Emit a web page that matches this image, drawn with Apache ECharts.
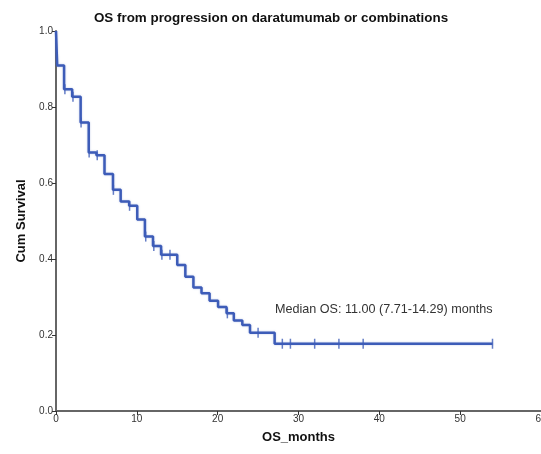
<!DOCTYPE html>
<html>
<head>
<meta charset="utf-8">
<script src="https://cdn.jsdelivr.net/npm/echarts@6/dist/echarts.min.js"></script>
<style>
  html, body { margin: 0; padding: 0; background: #fff; }
  #km-chart { width: 541px; height: 454px; }
</style>
</head>
<body>
<div id="km-chart"></div>
<script>
// step points of the survival curve (months, cum survival)
let times = [0, 0.15, 1.0, 2.0, 3.05, 4.05, 5.0, 6.0, 7.05, 8.0, 9.05, 10.05, 11.0, 12.0, 13.0,
  15.0, 16.0, 17.0, 18.0, 19.0, 20.05, 21.1, 22.0, 23.05, 24.0, 27.05, 54]
let surv = [1.0, 0.909, 0.847, 0.827, 0.759, 0.680, 0.673, 0.624, 0.582, 0.551, 0.540, 0.504, 0.459, 0.434, 0.411,
  0.384, 0.353, 0.325, 0.310, 0.290, 0.274, 0.257, 0.238, 0.226, 0.206, 0.177, 0.177]
// censored observations
let censored = [1.1, 2.1, 3.1, 4.1, 5.1, 7.1, 9.1, 11.1, 12.1, 13.1, 14.1, 21.2, 25, 28, 29, 32, 35, 38, 54]
let xTicks = [0, 10, 20, 30, 40, 50, 60]
let yTicks = [0.0, 0.2, 0.4, 0.6, 0.8, 1.0]
let medianText = 'Median OS: 11.00 (7.71-14.29) months'

let lineColor = '#3d5cb8'

function survAt(t) {
  let s = surv[0]
  for (let i = 0; i < times.length; i++) {
    if (times[i] <= t) s = surv[i]
  }
  return s
}

let curve = times.map((t, i) => [t, surv[i]])
let ticks = censored.map(t => [t, survAt(t)])

let chart = echarts.init(document.getElementById('km-chart'))
let option = {
  animation: false,
  title: {
    text: 'OS from progression on daratumumab or combinations',
    left: 266,
    textAlign: 'center',
    top: 7,
    textStyle: {
      fontFamily: 'Liberation Sans',
      fontSize: 13.4,
      fontWeight: 'bold',
      color: '#111'
    }
  },
  grid: {
    left: 56,
    top: 31,
    right: 0,
    bottom: 43,
    containLabel: false,
    outerBoundsMode: 'none'
  },
  xAxis: {
    type: 'value',
    min: xTicks[0],
    max: xTicks[xTicks.length - 1],
    interval: 10,
    name: 'OS_months',
    nameLocation: 'middle',
    nameGap: 20,
    nameTextStyle: { fontFamily: 'Liberation Sans', fontSize: 13, fontWeight: 'bold', color: '#111' },
    axisLine: { lineStyle: { color: '#666', width: 2 } },
    axisTick: { length: 4, lineStyle: { color: '#333' } },
    axisLabel: { fontFamily: 'Liberation Sans', fontSize: 10, color: '#333', margin: 3 },
    splitLine: { show: false }
  },
  yAxis: {
    type: 'value',
    min: yTicks[0],
    max: yTicks[yTicks.length - 1],
    interval: 0.2,
    name: 'Cum Survival',
    nameLocation: 'middle',
    nameGap: 27,
    nameTextStyle: { fontFamily: 'Liberation Sans', fontSize: 13, fontWeight: 'bold', color: '#111' },
    axisLine: { show: true, lineStyle: { color: '#666', width: 2 } },
    axisTick: { show: true, length: 4, lineStyle: { color: '#333' } },
    axisLabel: {
      fontFamily: 'Liberation Sans', fontSize: 10, color: '#333', margin: 3,
      formatter: v => v.toFixed(1)
    },
    splitLine: { show: false }
  },
  graphic: [{
    type: 'text',
    left: 275,
    top: 303,
    style: {
      text: medianText,
      fontFamily: 'Liberation Sans',
      fontSize: 12.6,
      fill: '#333'
    }
  }],
  series: [{
    name: 'OS',
    type: 'line',
    step: 'end',
    data: curve,
    showSymbol: false,
    lineStyle: {
      color: lineColor,
      width: 2.5,
      shadowColor: 'rgba(61,92,184,0.35)',
      shadowBlur: 2
    },
    z: 3
  }, {
    name: 'Censored',
    type: 'scatter',
    data: ticks,
    symbol: 'rect',
    symbolSize: [1.5, 10],
    itemStyle: { color: lineColor, opacity: 0.8 },
    z: 4
  }]
}
chart.setOption(option)
</script>
</body>
</html>
